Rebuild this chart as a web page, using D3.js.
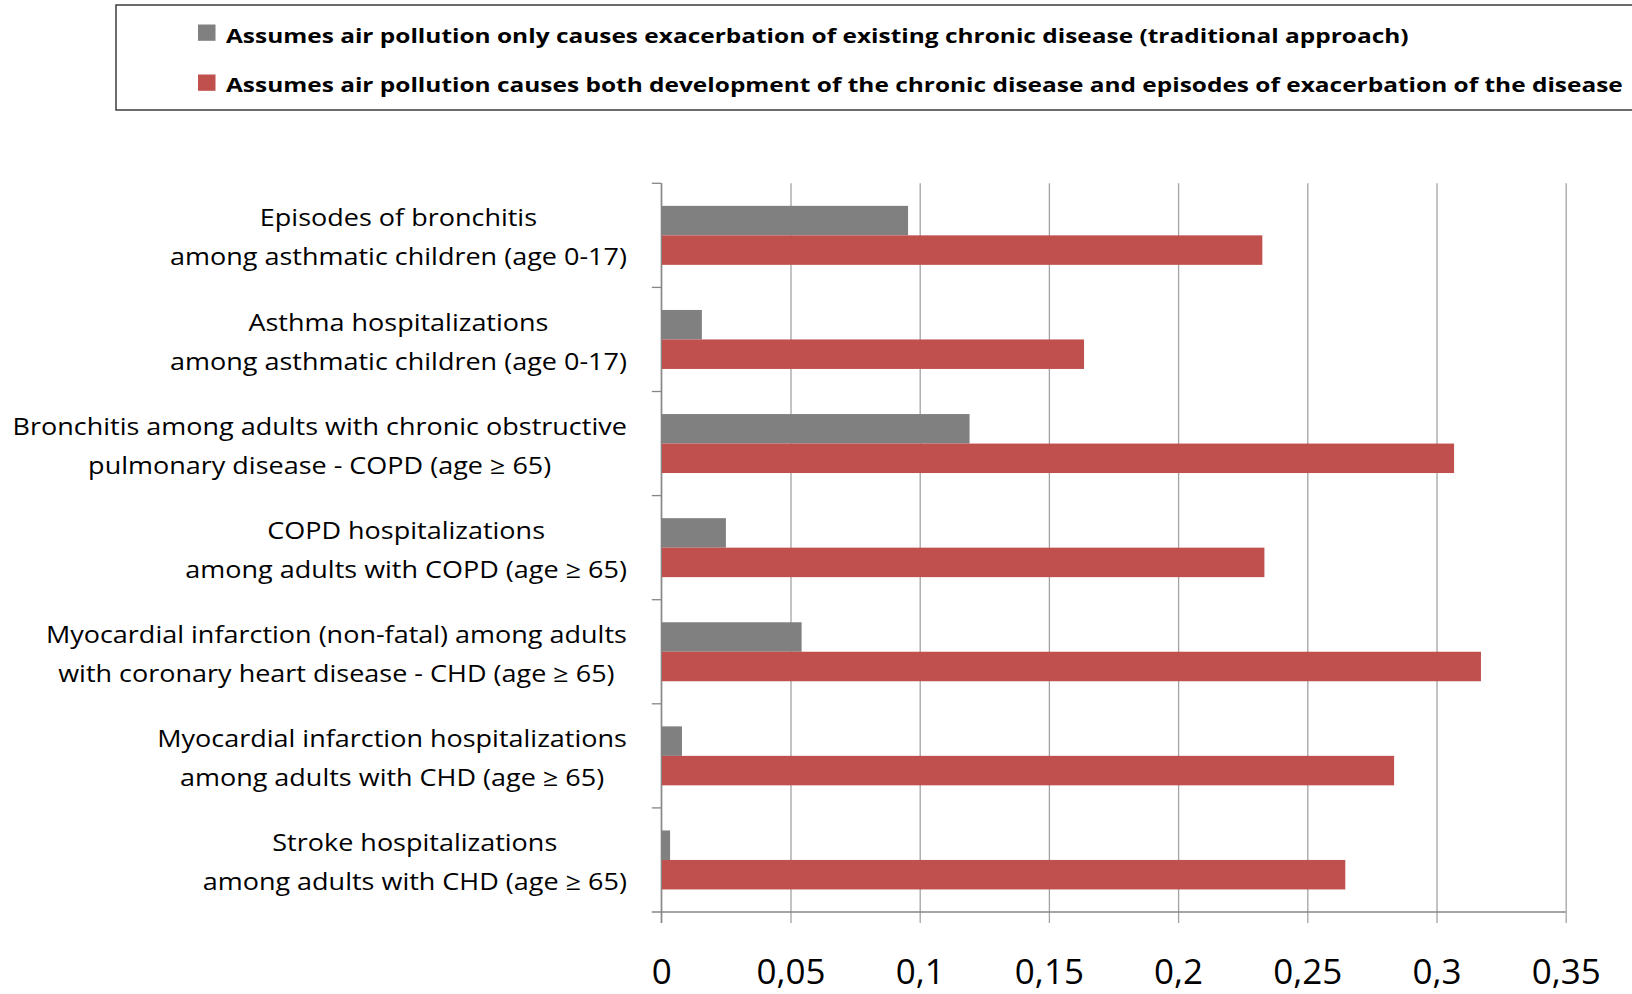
<!DOCTYPE html>
<html>
<head>
<meta charset="utf-8">
<script src="https://cdn.jsdelivr.net/npm/d3@7"></script>
<style>
  html, body { margin: 0; padding: 0; background: #ffffff; }
  svg { display: block; }
</style>
</head>
<body>
<svg id="chart" width="1632" height="994"></svg>
<script>
// Health outcomes, one per row (line breaks as they are set in the chart)
const categories = [
  "Episodes of bronchitis\namong asthmatic children (age 0-17)",
  "Asthma hospitalizations\namong asthmatic children (age 0-17)",
  "Bronchitis among adults with chronic obstructive\npulmonary disease - COPD (age \u2265 65)",
  "COPD hospitalizations\namong adults with COPD (age \u2265 65)",
  "Myocardial infarction (non-fatal) among adults\nwith coronary heart disease - CHD (age \u2265 65)",
  "Myocardial infarction hospitalizations\namong adults with CHD (age \u2265 65)",
  "Stroke hospitalizations\namong adults with CHD (age \u2265 65)"
];

// Traditional approach: exacerbation of existing chronic disease only
const exacerbationOnly = [0.0955, 0.0157, 0.1193, 0.0250, 0.0543, 0.0080, 0.0034];

// Development of the chronic disease plus episodes of exacerbation
const developmentAndExacerbation = [0.2326, 0.1636, 0.3068, 0.2334, 0.3172, 0.2836, 0.2647];

const seriesNames = [
  "Assumes air pollution only causes exacerbation of existing chronic disease (traditional approach)",
  "Assumes air pollution causes both development of the chronic disease and episodes of exacerbation of the disease"
];
const seriesColors = ["#808080", "#c0504d"];

const xTicks = [0, 0.05, 0.1, 0.15, 0.2, 0.25, 0.3, 0.35];

// ---------------------------------------------------------------------------
const svg = d3.select("#chart");

const plot = { left: 661.3, right: 1565.7, top: 183.3, bottom: 912 };

const x = d3.scaleLinear().domain([0, 0.35]).range([plot.left, plot.right]);
const y = d3.scaleBand().domain(categories).range([plot.top, plot.bottom]).padding(0);
const seriesKeys = [0, 1];
const ySub = d3.scaleBand().domain(seriesKeys).range([0, y.bandwidth()])
  .paddingInner(0).paddingOuter(0.765);

const locale = d3.formatLocale({ decimal: ",", thousands: ".", grouping: [3], currency: ["", ""] });
const fmt = locale.format(".2~f");

const gridColor = "#a3a3a3";
const axisColor = "#868686";

// Vertical gridlines with tick marks below the axis, plus tick labels
const xAxis = d3.axisBottom(x)
  .tickValues(xTicks)
  .tickFormat(fmt)
  .tickSizeInner(-(923 - plot.top))
  .tickSizeOuter(0)
  .tickPadding(0);

const gx = svg.append("g")
  .attr("transform", "translate(0,923)")
  .call(xAxis);
gx.select(".domain").remove();
gx.selectAll(".tick line")
  .attr("stroke", gridColor)
  .attr("stroke-width", 1.3);
gx.selectAll(".tick text")
  .attr("y", 61)
  .attr("dy", null)
  .attr("fill", "#000")
  .style("font-family", "'Open Sans', sans-serif")
  .style("font-size", "35px");

// Bars
const rows = categories.map((c, i) => ({ cat: c, vals: [exacerbationOnly[i], developmentAndExacerbation[i]] }));

svg.append("g").selectAll("g")
  .data(rows)
  .join("g")
  .attr("transform", d => `translate(0,${y(d.cat)})`)
  .selectAll("rect")
  .data(d => d.vals.map((v, k) => ({ k, v })))
  .join("rect")
  .attr("x", x(0))
  .attr("y", d => ySub(d.k))
  .attr("width", d => x(d.v) - x(0))
  .attr("height", ySub.bandwidth())
  .attr("fill", d => seriesColors[d.k]);

// Axis lines
const axes = svg.append("g").attr("stroke", axisColor).attr("stroke-width", 1.3);
axes.append("line")
  .attr("x1", x(0)).attr("x2", x(0))
  .attr("y1", plot.top).attr("y2", 923);
axes.append("line")
  .attr("x1", x(0) - 9.5).attr("x2", x(0.35))
  .attr("y1", y.range()[1]).attr("y2", y.range()[1]);
// Category boundary ticks on the value axis
axes.selectAll("line.cat")
  .data(categories)
  .join("line")
  .attr("class", "cat")
  .attr("x1", x(0) - 9.5).attr("x2", x(0))
  .attr("y1", d => y(d)).attr("y2", d => y(d));

// Category labels: each block right-aligned, lines centered within the block,
// set in a slightly widened face
const labelRight = 627;
const lineGap = 39;
const labelStretch = 1.125;
const labels = svg.append("g")
  .style("font-family", "'Open Sans', sans-serif")
  .style("font-size", "24px")
  .attr("fill", "#000");

categories.forEach(c => {
  const lines = c.split("\n");
  const g = labels.append("g");
  const texts = lines.map((ln, i) => g.append("text")
    .attr("text-anchor", "middle")
    .attr("y", y(c) + y.bandwidth() / 2 + 2 + (i - (lines.length - 1) / 2) * lineGap)
    .attr("dy", "0.357em")
    .text(ln));
  const maxW = d3.max(texts, t => t.node().getComputedTextLength()) * labelStretch;
  g.attr("transform", `translate(${labelRight - maxW / 2},0) scale(${labelStretch},1)`);
});

// Legend
const legend = svg.append("g");
legend.append("rect")
  .attr("x", 116).attr("y", 5)
  .attr("width", 1600).attr("height", 105)
  .attr("fill", "#fff")
  .attr("stroke", "#3c3c3c")
  .attr("stroke-width", 1.5);

const legendRows = [
  { swatchY: 24.5, baseline: 43.3 },
  { swatchY: 74.5, baseline: 92.3 }
];
const legendStretch = 1.222;
seriesNames.forEach((name, i) => {
  legend.append("rect")
    .attr("x", 198).attr("y", legendRows[i].swatchY)
    .attr("width", 17.5).attr("height", 16.3)
    .attr("fill", seriesColors[i]);
  legend.append("text")
    .attr("transform", `translate(226,${legendRows[i].baseline}) scale(${legendStretch},1)`)
    .style("font-family", "'Open Sans', sans-serif")
    .style("font-weight", "bold")
    .style("font-size", "20px")
    .attr("fill", "#000")
    .text(name);
});
</script>
</body>
</html>
